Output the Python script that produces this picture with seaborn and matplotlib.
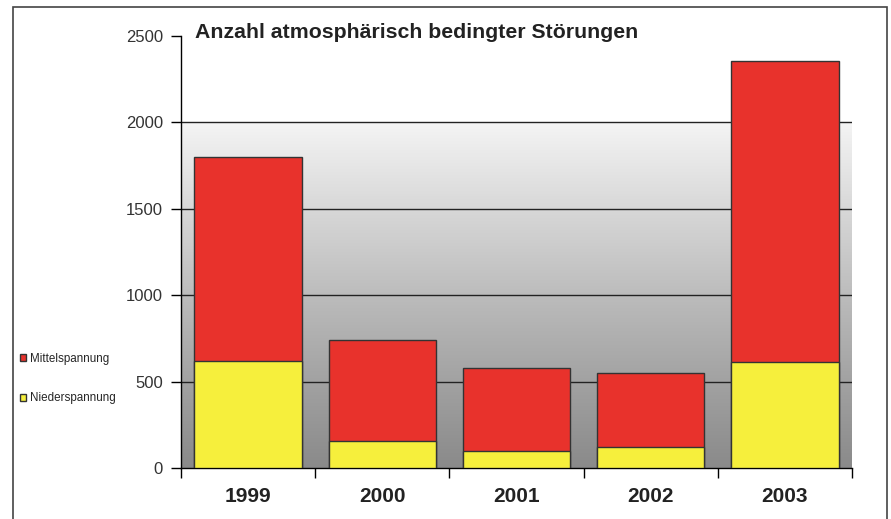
import numpy as np
import pandas as pd
import matplotlib
matplotlib.use("Agg")
import matplotlib.pyplot as plt
import seaborn as sns
from matplotlib.colors import LinearSegmentedColormap
from matplotlib.patches import Patch, Rectangle

# values
years = ["1999", "2000", "2001", "2002", "2003"]
nieder = [620, 156, 98, 122, 614]
mittel = [1180, 585, 481, 428, 1743]
y_ticks = [0, 500, 1000, 1500, 2000, 2500]
title = "Anzahl atmosphärisch bedingter Störungen"

df = pd.DataFrame({"jahr": years, "nieder": nieder, "mittel": mittel})
df["gesamt"] = df["nieder"] + df["mittel"]

sns.set_style("white")
plt.rcParams["font.family"] = ["Liberation Sans", "DejaVu Sans"]

red = "#e8322c"
yellow = "#f6ef3c"

fig = plt.figure(figsize=(8.91, 5.19), dpi=100)
ax = fig.add_axes([181 / 891, 1 - 468 / 519, 671 / 891, 432 / 519])

# gradient background below the 2000 line
cmap = LinearSegmentedColormap.from_list(
    "bg", ["#8a8a8a", "#a2a2a2", "#bcbcbc", "#d8d8d8", "#f4f4f4"])
grad = np.linspace(0, 1, 256).reshape(-1, 1)
ax.imshow(grad, cmap=cmap, origin="lower", aspect="auto",
          extent=[-0.5, 4.5, 0, 2000], zorder=0)

for y in y_ticks[1:-1]:
    ax.axhline(y, color="#222222", lw=1.0, zorder=1)

sns.barplot(data=df, x="jahr", y="gesamt", color=red, saturation=1,
            width=0.8, edgecolor="#333333", linewidth=1.0, ax=ax, zorder=2)
sns.barplot(data=df, x="jahr", y="nieder", color=yellow, saturation=1,
            width=0.8, edgecolor="#333333", linewidth=1.0, ax=ax, zorder=3)

ax.set_xlim(-0.5, 4.5)
ax.set_ylim(0, 2500)
ax.set_yticks(y_ticks)
ax.set_xlabel("")
ax.set_ylabel("")
ax.set_xticks(np.arange(-0.5, 5, 1), minor=True)
ax.tick_params(axis="x", which="major", length=0, pad=14, labelsize=15)
ax.tick_params(axis="x", which="minor", length=7, direction="out", color="black", width=1)
ax.tick_params(axis="y", length=7, direction="out", color="black", width=1,
               labelsize=12, labelcolor="#333333", pad=6)
ax.yaxis.set_ticks_position("left")
ax.xaxis.set_ticks_position("bottom")
for lbl in ax.get_xticklabels():
    lbl.set_fontweight("bold")
    lbl.set_color("#222222")

for s in ["top", "right"]:
    ax.spines[s].set_visible(False)
ax.spines["left"].set_color("black")
ax.spines["bottom"].set_color("black")
ax.spines["left"].set_linewidth(1.0)
ax.spines["bottom"].set_linewidth(1.0)

fig.text(195 / 891, 1 - 33 / 519, title, fontsize=15.3, fontweight="bold",
         color="#222222", va="center", ha="left")

handles = [Patch(facecolor=red, edgecolor="#333333", label="Mittelspannung"),
           Patch(facecolor=yellow, edgecolor="#333333", label="Niederspannung")]
fig.legend(handles=handles, loc="upper left", bbox_to_anchor=(14 / 891, 1 - 347 / 519),
           frameon=False, fontsize=8.4, handlelength=0.55, handleheight=0.55,
           handletextpad=0.35, labelspacing=2.35, borderpad=0)

fig.patches.append(Rectangle((13 / 891, -0.1), 874 / 891, 1.1 - 7 / 519,
                             transform=fig.transFigure, fill=False,
                             edgecolor="#444444", lw=1.2))

fig.savefig("out.png", dpi=100)
